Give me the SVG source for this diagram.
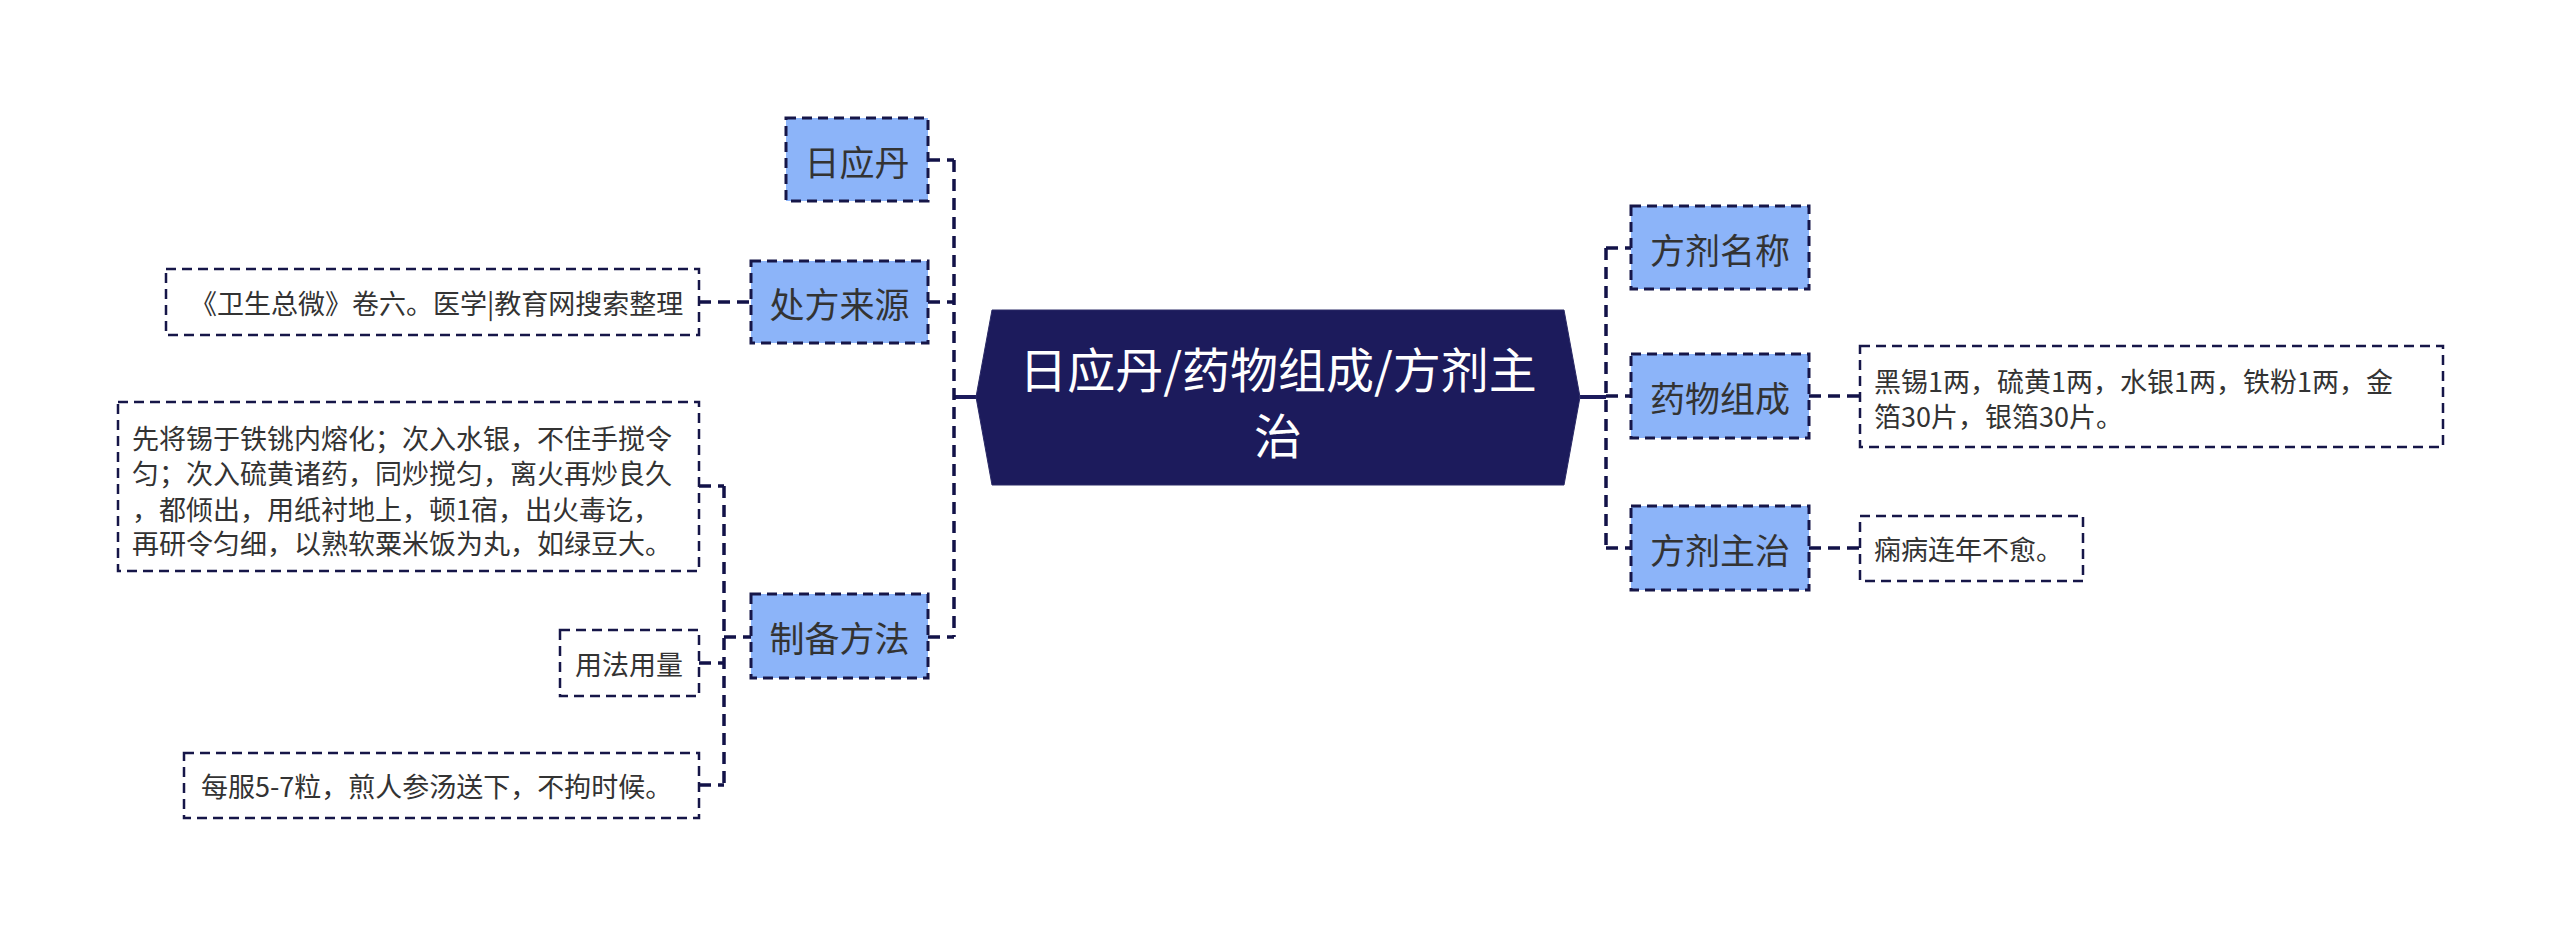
<svg xmlns="http://www.w3.org/2000/svg" width="2560" height="936" viewBox="0 0 2560 936">
<style>
text{font-family:"Noto Sans CJK SC","Noto Sans",sans-serif;}
.l1 rect{fill:#8cb4f9;stroke:#161648;stroke-width:3;stroke-dasharray:10 6;}
.l1 text{font-size:35px;fill:#333;text-anchor:middle;dominant-baseline:central;}
.lf rect{fill:#fff;stroke:#161648;stroke-width:2.5;stroke-dasharray:10 6;}
.lf text{font-size:27px;fill:#333;dominant-baseline:central;}
.dash{stroke:#121248;stroke-width:3.5;stroke-dasharray:12 7;fill:none;}
.solid{stroke:#1c1b5c;stroke-width:4;fill:none;}
</style>
<rect width="2560" height="936" fill="#fff"/>
<g id="connectors">
<path class="solid" d="M954 397H978M1580 397H1606"/>
<path class="dash" d="M954 160V637M928 160H954M928 302H954M928 637H954"/>
<path class="dash" d="M699 302H751"/>
<path class="dash" d="M724 486V785M724 637H751M699 486H724M699 663H724M699 785H724"/>
<path class="dash" d="M1606 248V548M1606 248H1631M1606 396H1631M1606 548H1631"/>
<path class="dash" d="M1809 396H1860M1809 548H1860"/>
</g>
<g id="center">
<polygon points="976,397 992,310 1564,310 1580,397 1564,485 992,485" fill="#1c1b5c" stroke="#2a2a66" stroke-width="1"/>
<text x="1278" y="367" font-size="48" fill="#fff" text-anchor="middle" dominant-baseline="central">日应丹/药物组成/方剂主</text>
<text x="1278" y="433" font-size="48" fill="#fff" text-anchor="middle" dominant-baseline="central">治</text>
</g>
<g id="n-riyingdan" class="l1"><rect x="786" y="118" width="142" height="83"/><text x="857" y="160">日应丹</text></g>
<g id="n-chufang" class="l1"><rect x="751" y="261" width="177" height="82"/><text x="839.5" y="302">处方来源</text></g>
<g id="n-zhibei" class="l1"><rect x="751" y="594" width="177" height="84"/><text x="839.5" y="636">制备方法</text></g>
<g id="n-mingcheng" class="l1"><rect x="1631" y="206" width="178" height="83"/><text x="1720" y="248">方剂名称</text></g>
<g id="n-zucheng" class="l1"><rect x="1631" y="354" width="178" height="84"/><text x="1720" y="396">药物组成</text></g>
<g id="n-zhuzhi" class="l1"><rect x="1631" y="506" width="178" height="84"/><text x="1720" y="548">方剂主治</text></g>
<g id="leaf-source" class="lf"><rect x="166" y="269" width="533" height="66"/><text x="190" y="302">《卫生总微》卷六。医学|教育网搜索整理</text></g>
<g id="leaf-method" class="lf"><rect x="118" y="402" width="581" height="169"/>
<text x="132" y="437">先将锡于铁铫内熔化；次入水银，不住手搅令</text>
<text x="132" y="472">匀；次入硫黄诸药，同炒搅匀，离火再炒良久</text>
<text x="132" y="508">，都倾出，用纸衬地上，顿1宿，出火毒讫，</text>
<text x="132" y="542">再研令匀细，以熟软粟米饭为丸，如绿豆大。</text>
</g>
<g id="leaf-usage" class="lf"><rect x="560" y="630" width="139" height="66"/><text x="575" y="663">用法用量</text></g>
<g id="leaf-dose" class="lf"><rect x="184" y="753" width="515" height="65"/><text x="201" y="785">每服5-7粒，煎人参汤送下，不拘时候。</text></g>
<g id="leaf-ingredients" class="lf"><rect x="1860" y="346" width="583" height="101"/>
<text x="1874" y="380">黑锡1两，硫黄1两，水银1两，铁粉1两，金</text>
<text x="1874" y="415">箔30片，银箔30片。</text>
</g>
<g id="leaf-indication" class="lf"><rect x="1860" y="516" width="223" height="65"/><text x="1874" y="548">痫病连年不愈。</text></g>
</svg>
